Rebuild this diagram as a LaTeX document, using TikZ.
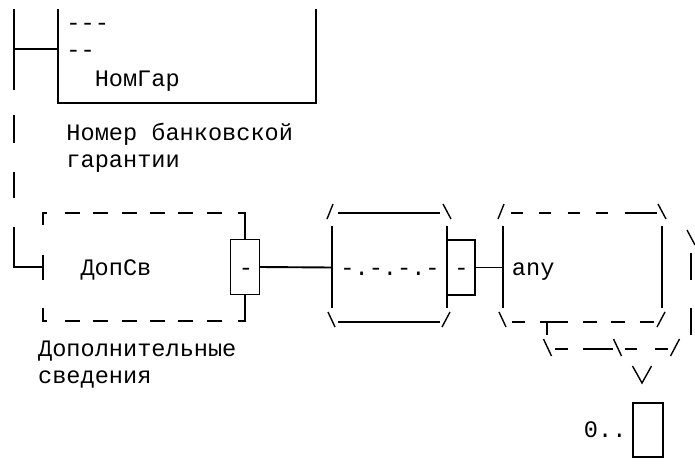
\documentclass[tikz,border=0pt]{standalone}
\usepackage{fontspec}
\newfontfamily\cyrmono{Liberation Mono}

\begin{document}
\begin{tikzpicture}[
                %scale=1
                x=1pt,y=-1pt,
                line width=1.9pt,
                lbl/.style={font=\cyrmono\fontsize{23.6}{27}\selectfont,inner sep=0pt,anchor=base west,text=black},
                frame/.style={inner sep=0pt,outer sep=0pt},
                corner/.style={line width=1.4pt},
                dashtop/.style={dash pattern=on 15pt off 13.3pt}] %

\useasboundingbox (0,0) rectangle (695,463);

% trunk
\coordinate (TRUNK) at (14,9);
\coordinate (TOPJ) at (14,49);
\coordinate (TRUNKB) at (14,227);
\draw (TRUNK) -- (14,90);
\draw (14,115) -- (14,143);
\draw (14,172) -- (14,198);


                    % 1
                    \node[frame,minimum width=258pt,minimum height=94pt] (NOMGAR) at (187,56) {}; % 1
                    \draw (NOMGAR.north west) -- (NOMGAR.south west) -- (NOMGAR.south east) -- (NOMGAR.north east);
                    \node[lbl] (DASH3) at (65.5,30) {---};
                    \node[lbl] (DASH2) at (65.5,57) {--};
                    \node[lbl] (NOMGART) at (93.8,86) {НомГар};
                    \node[lbl] (NOMGARD1) at (65.5,140) {Номер банковской};
                    \node[lbl] (NOMGARD2) at (65.5,167) {гарантии};
                    \draw (TOPJ) -- (TOPJ -| NOMGAR.west);


%%%%%%%%%%%%%%%%%%%%%%%%%%%%%%%%%%%%%%%%%%%%%%%%%%%%%%%%%%%%%%%%%%%%%%%%%%%%%%%%%%%%

                    % 2
                    \node[frame,minimum width=202pt,minimum height=108pt] (DOPSV) at (144,267) {}; % 1
                    \node[draw,frame,minimum width=29pt,minimum height=55pt] (DOPSVR) at (245,267) {};
                    \node[lbl] (DOPSVRT) at (238,275) {-};
                    \node[lbl] (DOPSVT) at (79.6,275) {ДопСв};
                    \node[lbl] (DOPSVD1) at (37.2,356) {Дополнительные};
                    \node[lbl] (DOPSVD2) at (37.2,383) {сведения};
                    \draw ([xshift=4pt]DOPSV.north west) -- (DOPSV.north west) -- ++(0,12);
                    \draw ([xshift=4pt]DOPSV.south west) -- (DOPSV.south west) -- ++(0,-13);
                    \draw ([yshift=12.5pt]DOPSV.west) -- ([yshift=-12.5pt]DOPSV.west);
                    \draw[dashtop] ([xshift=22pt]DOPSV.north west) -- ([xshift=-22pt]DOPSV.north east);
                    \draw[dashtop] ([xshift=22pt]DOPSV.south west) -- ([xshift=-22pt]DOPSV.south east);
                    \draw ([xshift=-7pt]DOPSV.north east) -- (DOPSV.north east) -- (DOPSVR.north);
                    \draw ([xshift=-7pt]DOPSV.south east) -- (DOPSV.south east) -- (DOPSVR.south);
                    \draw (TRUNKB) |- (DOPSV.west);


                    % 3
                    \node[frame,minimum width=115pt,minimum height=109pt] (SEQ) at (389.5,267.5) {}; % 1
                    \node[draw,frame,minimum width=28pt,minimum height=55pt] (SEQR) at (461,267.5) {};
                    \node[lbl] (SEQT) at (339.5,275) {-.-.-.-};
                    \node[lbl] (SEQRT) at (453.5,275) {-};
                    \draw ([xshift=6pt]SEQ.north west) -- ([xshift=-7pt]SEQ.north east);
                    \draw ([xshift=6pt]SEQ.south west) -- ([xshift=-7pt]SEQ.south east);
                    \draw ([yshift=-13pt]SEQ.north west) -- ([yshift=14pt]SEQ.south west);
                    \draw ([yshift=-13pt]SEQ.north east) -- ([yshift=14pt]SEQ.south east);
                    \draw[corner] (SEQ.north west) ++(-5,6) -- ++(6,-15);
                    \draw[corner] (SEQ.north east) ++(-4,-9) -- ++(8,15);
                    \draw[corner] (SEQ.south west) ++(-4,-10) -- ++(7,15);
                    \draw[corner] (SEQ.south east) ++(-5,5) -- ++(8,-15);
                    \draw (DOPSVR.east) -- (SEQ.west);


                    % 4
                    \node[frame,minimum width=159pt,minimum height=109pt] (ANY) at (582.5,267.5) {}; % 1
                    \node[lbl] (ANYT) at (511,275) {any};
                    \draw[dash pattern=on 12pt off 16.3pt] ([xshift=8pt]ANY.north west) -- ([xshift=106pt]ANY.north west);
                    \draw ([xshift=-37pt]ANY.north east) -- ([xshift=-5pt]ANY.north east);
                    \draw ([xshift=9pt]ANY.south west) -- ([xshift=22pt]ANY.south west);
                    \draw ([xshift=37pt]ANY.south west) -- ([xshift=65pt]ANY.south west);
                    \draw[dash pattern=on 14pt off 14.3pt] ([xshift=80pt]ANY.south west) -- ([xshift=152pt]ANY.south west);
                    \draw ([yshift=-13pt]ANY.north west) -- ([yshift=14pt]ANY.south west);
                    \draw ([yshift=-13pt]ANY.north east) -- ([yshift=14pt]ANY.south east);
                    \draw[corner] (ANY.north west) ++(-5,6) -- ++(6,-15);
                    \draw[corner] (ANY.north east) ++(-4,-9) -- ++(8,15);
                    \draw[corner] (ANY.south west) ++(-4,-10) -- ++(7,15);
                    \draw[corner] (ANY.south east) ++(-5,5) -- ++(8,-15);
                    \draw (SEQR.east) -- (ANY.west);
                    \coordinate (ANYSTEM) at ([xshift=44pt]ANY.south west);
                    \draw (ANYSTEM) -- ++(0,13);


                    % 5
                    \draw[corner] (543.5,339) -- (551.5,356);
                    \draw (555,349) -- (568,349);
                    \draw (583,349) -- (613,349);
                    \draw[corner] (613.5,339) -- (621.5,356);
                    \draw (625,349) -- (637,349);
                    \draw (655,349) -- (668,349);
                    \draw[corner] (670.5,356) -- (679.5,339);
                    \coordinate (VEE) at (642,383);
                    \draw[corner] (632.5,366) -- (VEE) -- (651.5,366);
                    \node[draw,frame,minimum width=30pt,minimum height=54pt] (OCC) at (648,430) {}; % 1
                    \node[lbl] (OCCT) at (583,437) {0..};

% outer
\draw[corner] (687,230) -- (695,245);
\draw (691,253) -- (691,280);
\draw (691,308) -- (691,335);

\end{tikzpicture}
\end{document}
